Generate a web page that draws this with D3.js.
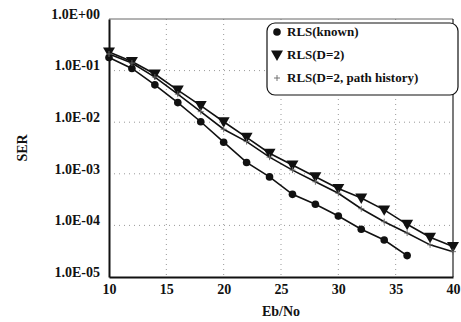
<!DOCTYPE html>
<html>
<head>
<meta charset="utf-8">
<script src="https://cdn.jsdelivr.net/npm/d3@7"></script>
<style>
  body { margin: 0; background: #fff; }
</style>
</head>
<body>
<div id="chart"></div>
<script>
const ebno = [10, 12, 14, 16, 18, 20, 22, 24, 26, 28, 30, 32, 34, 36, 38, 40];
const known = [0.18, 0.11, 0.053, 0.024, 0.0102, 0.0041, 0.00166, 0.00087, 0.0004, 0.000257, 0.000152, 0.000084, 0.000052, 0.000026];
const d2 = [0.23, 0.15, 0.086, 0.042, 0.021, 0.0102, 0.0051, 0.0025, 0.00148, 0.00088, 0.00052, 0.00034, 0.0002, 0.000105, 0.000059, 0.000039];
const d2path = [0.21, 0.14, 0.075, 0.035, 0.016, 0.0073, 0.0042, 0.0021, 0.00118, 0.0007, 0.00042, 0.00021, 0.000118, 0.000071, 0.000042, 0.000031];
const xTicks = [10, 15, 20, 25, 30, 35, 40];
const yTicks = [1, 1e-1, 1e-2, 1e-3, 1e-4, 1e-5];
const seriesNames = ['RLS(known)', 'RLS(D=2)', 'RLS(D=2, path history)'];

const FONT = '"Liberation Serif", "Times New Roman", "DejaVu Serif", serif';
const W = 461, H = 322;
const margin = { top: 19, right: 8, bottom: 45, left: 109 };
const width = W - margin.left - margin.right;
const height = H - margin.top - margin.bottom;

const svg = d3.select('#chart').append('svg')
  .attr('width', W)
  .attr('height', H);

const g = svg.append('g')
  .attr('transform', `translate(${margin.left},${margin.top})`);

const x = d3.scaleLinear().domain([10, 40]).range([0, width]);
const y = d3.scaleLog().domain([1e-5, 1]).range([height, 0]);

// dotted grid
g.selectAll('.gy').data(yTicks.slice(1, -1)).enter().append('line')
  .attr('x1', 0).attr('x2', width)
  .attr('y1', d => y(d)).attr('y2', d => y(d))
  .attr('stroke', '#999').attr('stroke-width', 1).attr('stroke-dasharray', '1,4');
g.selectAll('.gx').data(xTicks.slice(1, -1)).enter().append('line')
  .attr('y1', 0).attr('y2', height)
  .attr('x1', d => x(d)).attr('x2', d => x(d))
  .attr('stroke', '#999').attr('stroke-width', 1).attr('stroke-dasharray', '1,4');

// frame
g.append('line').attr('x1', 0).attr('x2', width).attr('y1', 0).attr('y2', 0)
  .attr('stroke', '#666').attr('stroke-width', 1);
g.append('line').attr('x1', width).attr('x2', width).attr('y1', 0).attr('y2', height)
  .attr('stroke', '#222').attr('stroke-width', 1.2);

// axes
const xAxis = g.append('g')
  .attr('transform', `translate(0,${height})`)
  .call(d3.axisBottom(x).tickValues(xTicks).tickSize(0).tickPadding(7));
xAxis.select('.domain').attr('stroke', '#111').attr('stroke-width', 2);

const yAxis = g.append('g')
  .call(d3.axisLeft(y).tickValues(yTicks).tickSize(0).tickPadding(9)
    .tickFormat(d => {
      const e = Math.round(Math.log10(d));
      return '1.0E' + (e < 0 ? '-' : '+') + String(Math.abs(e)).padStart(2, '0');
    }));
yAxis.select('.domain').attr('stroke', '#111').attr('stroke-width', 2);
yAxis.selectAll('text').attr('dy', '-0.05em');

// lines
const line = d3.line().x((d, i) => x(ebno[i])).y(d => y(d));
[known, d2, d2path].forEach(s => {
  g.append('path').datum(s)
    .attr('d', line)
    .attr('fill', 'none')
    .attr('stroke', '#111')
    .attr('stroke-width', 1.6);
});

// markers
g.selectAll('.mk').data(known).enter().append('circle')
  .attr('cx', (d, i) => x(ebno[i])).attr('cy', d => y(d))
  .attr('r', 3.8).attr('fill', '#111');

const tri = d3.symbol().type(d3.symbolTriangle).size(62);
g.selectAll('.md').data(d2).enter().append('path')
  .attr('d', tri)
  .attr('transform', (d, i) => `translate(${x(ebno[i])},${y(d) - 1}) rotate(180)`)
  .attr('fill', '#111');

const plus = 'M-3,0H3M0,-3V3';
g.selectAll('.mp').data(d2path).enter().append('path')
  .attr('d', plus)
  .attr('transform', (d, i) => `translate(${x(ebno[i])},${y(d)})`)
  .attr('fill', 'none').attr('stroke', '#666').attr('stroke-width', 0.9);

// legend
const lg = svg.append('g').attr('transform', 'translate(267,23)');
lg.append('rect')
  .attr('width', 191).attr('height', 72).attr('rx', 8)
  .attr('fill', '#fff').attr('stroke', '#111').attr('stroke-width', 1.2);
const rows = lg.selectAll('.row').data(seriesNames).enter().append('g')
  .attr('transform', (d, i) => `translate(10,${9 + i * 23})`);
rows.append('text').attr('x', 10).attr('y', 4)
  .style('font-size', '13px').text(d => d);
rows.filter((d, i) => i === 0).append('circle').attr('r', 3.8).attr('fill', '#111');
rows.filter((d, i) => i === 1).append('path').attr('d', tri)
  .attr('transform', 'translate(0,-1) rotate(180)').attr('fill', '#111');
rows.filter((d, i) => i === 2).append('path').attr('d', plus)
  .attr('fill', 'none').attr('stroke', '#666').attr('stroke-width', 0.9);

// axis titles
svg.append('text')
  .attr('transform', `translate(27,${margin.top + height / 2}) rotate(-90)`)
  .attr('text-anchor', 'middle')
  .style('font-size', '14px')
  .text('SER');
svg.append('text')
  .attr('x', margin.left + width / 2).attr('y', 316)
  .attr('text-anchor', 'middle')
  .style('font-size', '14px')
  .text('Eb/No');

// common text styling
svg.selectAll('text')
  .style('font-family', FONT)
  .style('font-weight', 'bold')
  .attr('fill', '#111');
svg.selectAll('.tick text').style('font-size', '14px');
</script>
</body>
</html>
